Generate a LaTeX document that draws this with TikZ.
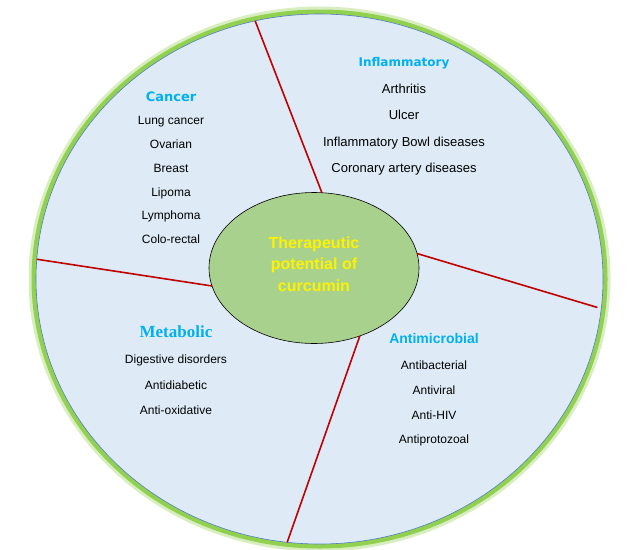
\documentclass[tikz,border=0pt]{standalone}
\usepackage{fontspec}
\setmainfont{Liberation Sans}
\newfontfamily\headfont{DejaVu Sans}
\newfontfamily\serifhead{Liberation Serif}
\usetikzlibrary{positioning, shapes.geometric}

\definecolor{bgblue}{RGB}{222,235,247}
\definecolor{rimblue}{RGB}{80,125,190}
\definecolor{glowgreen}{RGB}{146,208,80}
\definecolor{hubgreen}{RGB}{169,209,142}
\definecolor{headblue}{RGB}{0,176,240}
\definecolor{spokered}{RGB}{192,0,0}

\tikzset{
  item/.style={inner sep=0pt, text height=9pt, text depth=3pt, font=\fontsize{12}{14}\selectfont},
  bigitem/.style={item, font=\fontsize{13}{15}\selectfont},
  head/.style={inner sep=0pt, text height=9pt, text depth=3pt, text=headblue},
  spoke/.style={draw=spokered, line width=1.6pt},
}

\begin{document}
\begin{tikzpicture}[x=1pt, y=1pt, node distance=11.4pt]
    \useasboundingbox[fill=white] (0,0) rectangle (636,-549);
    % Circles
    \node[draw=rimblue, fill=bgblue, ellipse, inner sep=0pt, outer sep=0pt,
          minimum width=567pt, minimum height=530pt, line width=0.6pt,
          preaction={draw=glowgreen, line width=15pt, opacity=0.35},
          preaction={draw=glowgreen, line width=9pt}] (rim) at (319.5,-279) {};
    \node[draw, fill=hubgreen, ellipse, inner sep=0pt, outer sep=0pt,
          minimum width=210pt, minimum height=151pt, line width=0.6pt] (hub) at (314,-268) {};
    \node[align=center, text=yellow, inner sep=0pt, font=\fontsize{16}{21.5}\selectfont\bfseries]
          (hubtext) at ([yshift=4pt]hub.center) {Therapeutic\\potential of\\curcumin};

    % Spokes
    \draw[spoke] (hub.84.1) -- (rim.104.2);
    \draw[spoke, shorten >=4pt] (hub.8.5) -- (rim.-6.1);
    \draw[spoke] (hub.190.6) -- (rim.176);
    \draw[spoke] (hub.-56.3) -- (rim.263.4);

    % Cancer
    \node[head, font=\fontsize{13}{15}\headfont\bfseries] (cancer) at (171,-98.7) {Cancer};
    \node[item, below=10.5pt of cancer] (lung) {Lung cancer};
    \node[item, below=of lung] (ovarian) {Ovarian};
    \node[item, below=of ovarian] (breast) {Breast};
    \node[item, below=of breast] (lipoma) {Lipoma};
    \node[item, below=of lipoma] (lymphoma) {Lymphoma};
    \node[item, below=of lymphoma] (colo) {Colo-rectal};

    % Inflammatory
    \node[head, font=\fontsize{12}{14}\headfont\bfseries] (inflam) at (404,-63.4) {Inflammatory};
    \node[bigitem, below=14.2pt of inflam] (arthritis) {Arthritis};
    \node[bigitem, below=14.2pt of arthritis] (ulcer) {Ulcer};
    \node[bigitem, below=14.2pt of ulcer] (bowl) {Inflammatory Bowl diseases};
    \node[bigitem, below=14.2pt of bowl] (coronary) {Coronary artery diseases};

    % Metabolic
    \node[head, font=\fontsize{17}{19}\serifhead\bfseries] (metabolic) at (176,-334.7) {Metabolic};
    \node[item, below=13.6pt of metabolic] (digestive) {Digestive disorders};
    \node[item, below=13pt of digestive] (diabetic) {Antidiabetic};
    \node[item, below=13pt of diabetic] (oxidative) {Anti-oxidative};

    % Antimicrobial
    \node[head, font=\fontsize{14}{16}\selectfont\bfseries] (microbial) at (434,-340) {Antimicrobial};
    \node[item, below=14.3pt of microbial] (bacterial) {Antibacterial};
    \node[item, below=12.3pt of bacterial] (viral) {Antiviral};
    \node[item, below=12.3pt of viral] (hiv) {Anti-HIV};
    \node[item, below=12.3pt of hiv] (protozoal) {Antiprotozoal};
\end{tikzpicture}
\end{document}
